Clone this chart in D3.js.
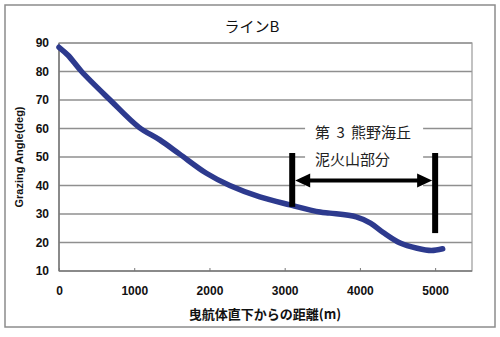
<!DOCTYPE html>
<html><head><meta charset="utf-8">
<script src="https://cdn.jsdelivr.net/npm/d3@7"></script>
<style>body{margin:0;background:#fff}</style>
</head><body>
<svg id="c" width="500" height="337"></svg>
<script>
const distance = [0,120,300,680,1060,1340,1600,1960,2270,2670,3070,3470,3600,3950,4140,4310,4535,4760,4950,5100];
const angle    = [88.5,85.7,80,70,60.5,56,51.1,44.3,40,36,33.2,30.7,30.3,29,26.8,23.5,19.8,18,17.2,17.8];
const xTicks = [0,1000,2000,3000,4000,5000];
const yTicks = [10,20,30,40,50,60,70,80,90];
const title = "ラインB";
const xLabel = "曳航体直下からの距離(m)";
const yLabel = "Grazing Angle(deg)";
const noteLines = ["第 3 熊野海丘","泥火山部分"];
const rangeStart = 3100, rangeEnd = 5000;

const svg = d3.select("#c");
const L=59, R=472, T=43, B=271;
const x = d3.scaleLinear().domain([0,5490]).range([L,R]);
const y = d3.scaleLinear().domain([10,90]).range([B,T]);

svg.append("rect").attr("x",5).attr("y",5).attr("width",490).attr("height",322)
  .attr("fill","#fff").attr("stroke","#8c8c8c").attr("stroke-width",1.5);

svg.append("g").selectAll("line").data(yTicks.filter(d=>d>10)).join("line")
  .attr("x1",L).attr("x2",R).attr("y1",d=>y(d)).attr("y2",d=>y(d))
  .attr("stroke","#8f8f8f").attr("stroke-width",1.5);
svg.append("rect").attr("x",L).attr("y",T).attr("width",R-L).attr("height",B-T)
  .attr("fill","none").attr("stroke","#9a9a9a").attr("stroke-width",1.2);
svg.append("line").attr("x1",L).attr("x2",L).attr("y1",T).attr("y2",B).attr("stroke","#777").attr("stroke-width",1.5);
svg.append("line").attr("x1",L).attr("x2",R).attr("y1",B).attr("y2",B).attr("stroke","#777").attr("stroke-width",1.5);

const xa = svg.append("g").attr("transform",`translate(0,${B})`)
  .call(d3.axisBottom(x).tickValues(xTicks).tickSize(-3).tickPadding(15).tickFormat(d3.format("d")));
xa.select(".domain").remove();
xa.selectAll("line").attr("stroke","#777");
xa.selectAll("text").attr("font-family","Liberation Sans, Arial").attr("font-size",12).attr("font-weight","bold").attr("fill","#111");

const ya = svg.append("g").attr("transform",`translate(${L},0)`)
  .call(d3.axisLeft(y).tickValues(yTicks).tickSize(0).tickPadding(10));
ya.select(".domain").remove();
ya.selectAll("text").attr("font-family","Liberation Sans, Arial").attr("font-size",12).attr("font-weight","bold").attr("fill","#111");

svg.append("rect").attr("x",x(3271)).attr("y",y(65.8)).attr("width",x(4840)-x(3271)).attr("height",y(37.7)-y(65.8)).attr("fill","#fff");

const line = d3.line().x((d,i)=>x(distance[i])).y((d,i)=>y(angle[i])).curve(d3.curveCatmullRom.alpha(0.5));
svg.append("path").datum(angle).attr("d",line).attr("fill","none")
  .attr("stroke","#2d3a8e").attr("stroke-width",5.5).attr("stroke-linecap","round").attr("stroke-linejoin","round");

svg.append("line").attr("x1",x(rangeStart)).attr("x2",x(rangeStart)).attr("y1",y(51.4)).attr("y2",y(32.5)).attr("stroke","#000").attr("stroke-width",6);
svg.append("line").attr("x1",x(rangeEnd)).attr("x2",x(rangeEnd)).attr("y1",y(51.4)).attr("y2",y(23.3)).attr("stroke","#000").attr("stroke-width",6);
const ay = y(41.75);
const ax1 = x(rangeStart)+3, ax2 = x(rangeEnd)-3;
svg.append("line").attr("x1",ax1+10).attr("x2",ax2-10).attr("y1",ay).attr("y2",ay).attr("stroke","#000").attr("stroke-width",4);
svg.append("path").attr("d",`M${ax1},${ay} L${ax1+15},${ay-7} L${ax1+15},${ay+7} Z`).attr("fill","#000");
svg.append("path").attr("d",`M${ax2},${ay} L${ax2-15},${ay-7} L${ax2-15},${ay+7} Z`).attr("fill","#000");

svg.append("g").selectAll("text").data(noteLines).join("text")
  .attr("x",x(3404)).attr("y",(d,i)=>y([58.4,48.9][i])).attr("dy","0.35em")
  .attr("font-family","Noto Sans CJK JP").attr("font-size",15).attr("fill","#222")
  .attr("xml:space","preserve").attr("word-spacing",3).text(d=>d);

svg.append("text").attr("x",252).attr("y",27).attr("dy","0.35em").attr("text-anchor","middle")
  .attr("font-family","Noto Sans CJK JP").attr("font-size",15).attr("fill","#111").text(title);
svg.append("text").attr("x",265).attr("y",314).attr("dy","0.35em").attr("text-anchor","middle")
  .attr("font-family","Noto Sans CJK JP").attr("font-weight","bold").attr("font-size",13).attr("fill","#111").text(xLabel);
svg.append("text").attr("transform",`translate(19,${(T+B)/2}) rotate(-90)`).attr("dy","0.35em").attr("text-anchor","middle")
  .attr("font-family","Liberation Sans, Arial").attr("font-weight","bold").attr("font-size",11).attr("fill","#111").text(yLabel);
</script>
</body></html>
